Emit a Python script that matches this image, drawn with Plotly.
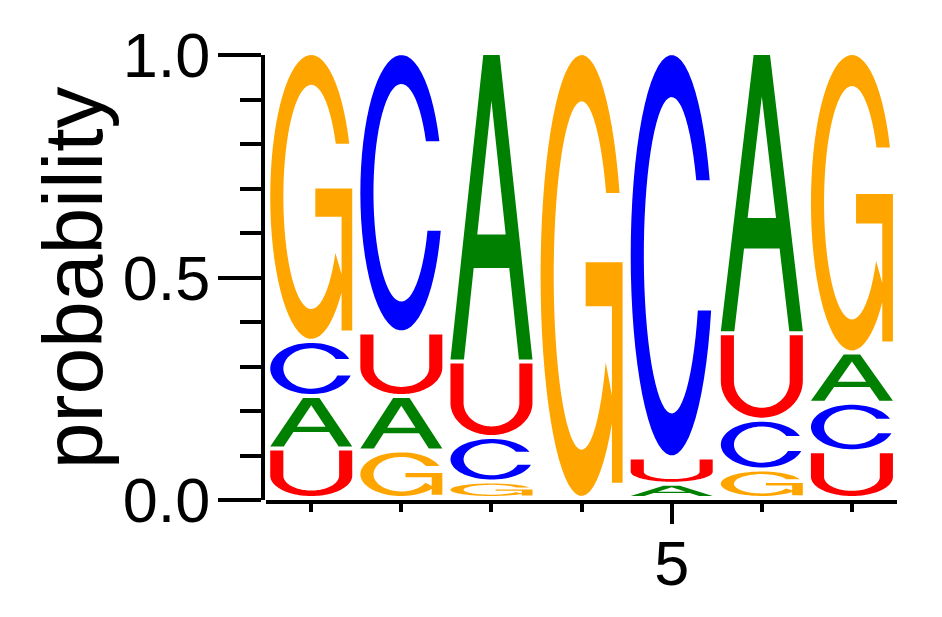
import numpy as np
import plotly.graph_objects as go

# Position weights (probability of each base per position)
positions = [1, 2, 3, 4, 5, 6, 7]
prob_A = [0.118, 0.122, 0.693, 0.000, 0.032, 0.630, 0.113]
prob_C = [0.124, 0.628, 0.100, 0.000, 0.909, 0.112, 0.109]
prob_G = [0.647, 0.107, 0.037, 1.000, 0.000, 0.064, 0.673]
prob_U = [0.111, 0.143, 0.170, 0.000, 0.059, 0.194, 0.105]

bases = ['A', 'C', 'G', 'U']
probs = {'A': prob_A, 'C': prob_C, 'G': prob_G, 'U': prob_U}
colors = {'A': 'green', 'C': 'blue', 'G': 'orange', 'U': 'red'}

LETTER_W = 0.91
PAD = 0.009


def arc(cx, cy, rx, ry, a0, a1, n=60):
    t = np.radians(np.linspace(a0, a1, n))
    return list(cx + rx * np.cos(t)), list(cy + ry * np.sin(t))


def inner_angle(y, ry):
    return np.degrees(np.arcsin((y - 0.5) / ry))


# Letter outlines in a unit box, each one a list of polygons (all counter-clockwise)
def glyph_C():
    ox, oy = arc(0.5, 0.5, 0.5, 0.5, 22, 344)
    a_top = inner_angle(oy[0], 0.395)
    a_bot = inner_angle(oy[-1], 0.395) + 360
    ix, iy = arc(0.5, 0.5, 0.34, 0.395, a_bot, a_top)
    return [(ox + ix, oy + iy)]


def glyph_G():
    ox, oy = arc(0.5, 0.5, 0.5, 0.5, 22, 323)
    a_top = inner_angle(oy[0], 0.395)
    ix, iy = arc(0.5, 0.5, 0.34, 0.395, 330, a_top)
    spur = ([0.87, 1.0, 1.0, 0.87], [0.03, 0.03, 0.53, 0.53])
    bar = ([0.55, 1.0, 1.0, 0.55], [0.43, 0.43, 0.53, 0.53])
    return [(ox + ix, oy + iy), spur, bar]


def glyph_U():
    ox, oy = arc(0.5, 0.45, 0.5, 0.45, 180, 360)
    ix, iy = arc(0.5, 0.45, 0.34, 0.33, 360, 180)
    xs = [0.0] + ox + [1.0, 0.84] + ix + [0.16]
    ys = [1.0] + oy + [1.0, 1.0] + iy + [1.0]
    return [(xs, ys)]


def glyph_A():
    left = ([0.0, 0.165, 0.5, 0.5, 0.40], [0.0, 0.0, 0.85, 1.0, 1.0])
    right = ([0.835, 1.0, 0.60, 0.5, 0.5], [0.0, 0.0, 1.0, 1.0, 0.85])
    bar = ([0.2, 0.8, 0.8, 0.2], [0.30, 0.30, 0.41, 0.41])
    return [left, right, bar]


glyphs = {'A': glyph_A(), 'C': glyph_C(), 'G': glyph_G(), 'U': glyph_U()}

fig = go.Figure()

# Stack letters from smallest to largest probability in each column
for i, pos in enumerate(positions):
    column = sorted([(probs[b][i], b) for b in bases])
    bottom = 0.0
    for p, b in column:
        if p <= 0:
            continue
        xs, ys = [], []
        for px, py in glyphs[b]:
            xs += [pos - LETTER_W / 2 + u * LETTER_W for u in px] + [None]
            ys += [bottom + PAD + v * (p - PAD) for v in py] + [None]
        fig.add_trace(go.Scatter(x=xs, y=ys, fill='toself', fillcolor=colors[b],
                                 mode='none', line=dict(width=0),
                                 hoverinfo='skip', showlegend=False))
        bottom += p

# page body adds 8px, so margins are shifted by that much
fig.update_layout(
    width=942, height=617,
    margin=dict(l=255, r=53, t=38, b=125),
    plot_bgcolor='white', paper_bgcolor='white',
    showlegend=False,
    font=dict(family='Liberation Sans, Arial', color='black'),
    xaxis=dict(domain=[0.005, 1], range=[0.5, 7.5], showgrid=False, zeroline=False,
               showline=True, linecolor='black', linewidth=4,
               tick0=0, dtick=5, ticks='outside', ticklen=20, tickwidth=4,
               tickcolor='black', tickfont=dict(size=63), ticklabelstandoff=-15,
               minor=dict(dtick=1, tick0=0, ticks='outside', ticklen=8,
                          tickwidth=4, tickcolor='black')),
    yaxis=dict(range=[0, 1], anchor='free', position=0, showgrid=False, zeroline=False,
               showline=True, linecolor='black', linewidth=4,
               tick0=0, dtick=0.5, tickformat='.1f', ticks='outside', ticklen=43,
               tickwidth=4, tickcolor='black', tickfont=dict(size=63),
               ticklabelstandoff=-5,
               minor=dict(dtick=0.1, tick0=0, ticks='outside', ticklen=21,
                          tickwidth=4, tickcolor='black')),
    annotations=[dict(text='probability', textangle=-90, showarrow=False,
                      xref='paper', yref='paper', x=-0.3, y=0.5,
                      xanchor='center', yanchor='middle', font=dict(size=84))],
)

fig.write_html("out.html")
